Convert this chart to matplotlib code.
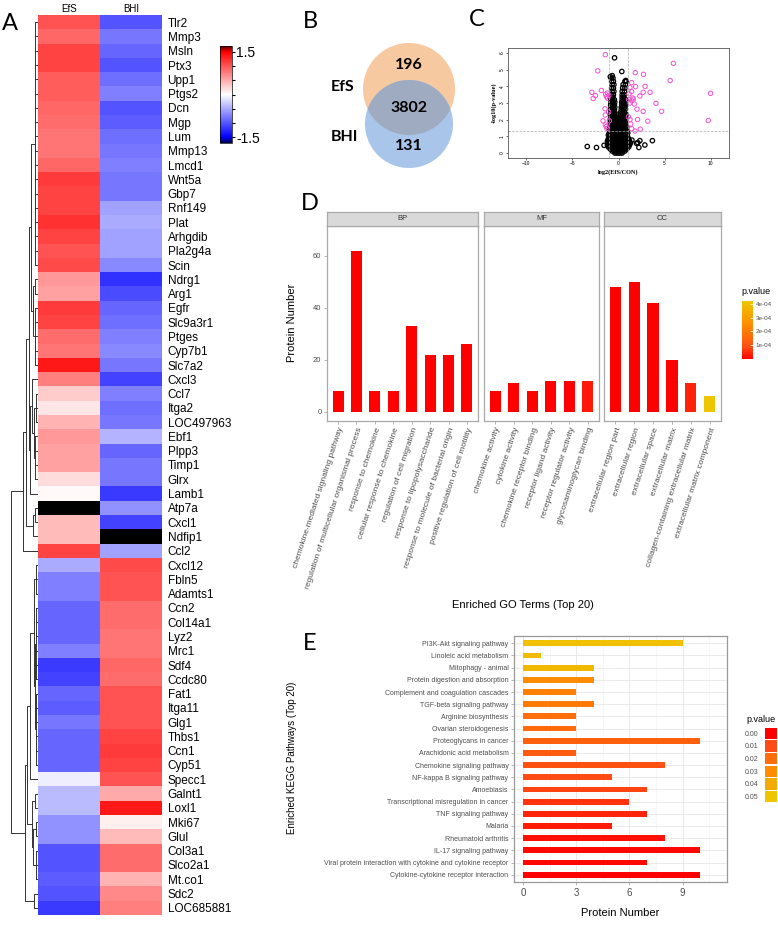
import numpy as np
import matplotlib
matplotlib.use('Agg')
import matplotlib.pyplot as plt
from matplotlib.colors import LinearSegmentedColormap, Normalize
from matplotlib.cm import ScalarMappable
from matplotlib.patches import Circle

W, H = 778, 925
plt.rcParams['font.family'] = ['Liberation Sans', 'DejaVu Sans']

# ---- A: heatmap data (z-scores) ----
genes = ['Tlr2', 'Mmp3', 'Msln', 'Ptx3', 'Upp1', 'Ptgs2', 'Dcn', 'Mgp', 'Lum', 'Mmp13',
         'Lmcd1', 'Wnt5a', 'Gbp7', 'Rnf149', 'Plat', 'Arhgdib', 'Pla2g4a', 'Scin', 'Ndrg1',
         'Arg1', 'Egfr', 'Slc9a3r1', 'Ptges', 'Cyp7b1', 'Slc7a2', 'Cxcl3', 'Ccl7', 'Itga2',
         'LOC497963', 'Ebf1', 'Plpp3', 'Timp1', 'Glrx', 'Lamb1', 'Atp7a', 'Cxcl1', 'Ndfip1',
         'Ccl2', 'Cxcl12', 'Fbln5', 'Adamts1', 'Ccn2', 'Col14a1', 'Lyz2', 'Mrc1', 'Sdf4',
         'Ccdc80', 'Fat1', 'Itga11', 'Glg1', 'Thbs1', 'Ccn1', 'Cyp51', 'Specc1', 'Galnt1',
         'Loxl1', 'Mki67', 'Glul', 'Col3a1', 'Slco2a1', 'Mt.co1', 'Sdc2', 'LOC685881']
efs_z = [1.0, 0.9, 1.1, 1.1, 0.95, 0.95, 0.9, 0.85, 0.8, 0.8,
         0.9, 1.15, 1.1, 1.1, 1.2, 1.1, 1.0, 1.05, 0.6,
         0.55, 1.15, 1.1, 0.85, 0.8, 1.35, 0.75, 0.3, 0.15,
         0.45, 0.6, 0.55, 0.55, 0.2, 0.03, np.nan, 0.4, 0.4,
         1.1, -0.5, -0.75, -0.75, -0.9, -0.9, -0.9, -0.75, -1.15,
         -1.1, -0.9, -0.95, -0.8, -0.9, -0.9, -0.9, -0.1, -0.4,
         -0.4, -0.65, -0.65, -1.0, -1.0, -0.95, -1.0, -1.15]
bhi_z = [-1.0, -0.8, -0.9, -1.0, -0.85, -0.75, -1.0, -0.95, -0.85, -0.8,
         -0.75, -0.8, -0.8, -0.55, -0.5, -0.55, -0.55, -0.7, -1.2,
         -1.05, -0.9, -0.85, -0.75, -0.7, -0.8, -1.1, -0.75, -0.85,
         -0.8, -0.45, -0.9, -0.8, -0.8, -1.15, -0.65, -1.1, np.nan,
         -0.55, 1.05, 1.0, 1.0, 0.85, 0.85, 0.8, 0.8, 0.9,
         0.85, 1.0, 1.0, 1.0, 1.1, 1.15, 1.1, 1.0, 0.5,
         1.35, 0.08, 0.4, 0.85, 0.85, 0.45, 0.7, 0.75]
# row dendrogram: (height, left, right), leaf = row index, ('c', a, b, h) = flat cluster
den_top = (15, (12, (9, (7, ('c', 0, 18, 3), (5, (3, 18, 19), ('c', 20, 25, 3))),
                        (8, (6, 25, (4, ('c', 26, 29, 2), ('c', 29, 33, 3))), 33)),
                    (5, (3, 34, 35), 36)),
           37)
den_bottom = (13, (11, (8, (4, ('c', 38, 41, 2), (3, ('c', 41, 47, 2), ('c', 47, 53, 2))), 53),
                   (6, (3, 54, 55), (5, (2, 56, 57), ('c', 58, 61, 2)))),
              (4, 61, 62))
den_root = (27, den_top, den_bottom)

# ---- B: venn ----
venn_sets = ['EfS', 'BHI']
venn_counts = [196, 3802, 131]

# ---- C: volcano ----
mag_pts = [(-1.43, 5.9), (-2.25, 4.93), (5.96, 5.38), (1.82, 4.82), (2.71, 4.72), (5.61, 4.35),
           (10.0, 3.58), (9.75, 1.95), (-2.89, 3.64), (-2.5, 3.44), (-2.75, 3.27), (-1.86, 3.75),
           (-1.39, 3.52), (-1.32, 3.38), (-1.18, 3.29), (-1.05, 3.45), (1.43, 4.22), (1.86, 3.98),
           (1.25, 3.93), (2.89, 4.0), (1.43, 3.68), (2.68, 3.64), (3.43, 3.64), (2.32, 3.42),
           (1.61, 3.23), (1.43, 3.13), (1.71, 2.94), (1.25, 3.0), (1.1, 3.2), (4.07, 2.98),
           (2.0, 2.63), (2.68, 2.5), (4.68, 2.5), (2.07, 2.01), (3.18, 1.91), (2.36, 1.43),
           (1.79, 1.32), (1.43, 1.45), (1.32, 1.74), (1.25, 2.01), (1.07, 2.17), (-1.46, 2.65),
           (-1.43, 2.28), (-1.68, 1.93), (-1.32, 1.59), (-1.25, 1.47), (-1.07, 2.46), (-1.0, 1.93),
           (-1.43, 1.68), (1.55, 3.3), (1.15, 3.55), (-1.2, 3.6)]
black_pts = [(-0.43, 5.71), (0.36, 4.89), (3.68, 0.74), (2.86, 0.48), (2.1, 0.62), (2.32, 0.74),
             (1.96, 0.58), (2.21, 0.33), (-3.39, 0.39), (-2.39, 0.33), (-1.57, 0.46), (1.46, 0.77),
             (-0.68, 4.64), (-0.89, 4.58), (0.79, 4.35)]
black_levels = [
    (0.0, [-0.4, -0.2, 0.0, 0.2, 0.4]),
    (0.12, [-0.7, -0.5, -0.3, -0.1, 0.1, 0.3, 0.5, 0.7]),
    (0.24, [-0.9, -0.7, -0.5, -0.3, -0.1, 0.1, 0.3, 0.5, 0.7, 0.9]),
    (0.36, [-1.1, -0.9, -0.7, -0.5, -0.3, -0.1, 0.1, 0.3, 0.5, 0.7, 0.9, 1.1]),
    (0.48, [-1.2, -1.0, -0.8, -0.6, -0.4, -0.2, 0.0, 0.2, 0.4, 0.6, 0.8, 1.0, 1.2]),
    (0.6, [-1.1, -0.9, -0.7, -0.5, -0.3, -0.1, 0.1, 0.3, 0.5, 0.7, 0.9, 1.1, 1.3]),
    (0.72, [-1.2, -1.0, -0.8, -0.6, -0.4, -0.2, 0.0, 0.2, 0.4, 0.6, 0.8, 1.0, 1.2]),
    (0.84, [-1.1, -0.9, -0.7, -0.5, -0.3, -0.1, 0.1, 0.3, 0.5, 0.7, 0.9, 1.1]),
    (0.96, [-1.0, -0.8, -0.6, -0.4, -0.2, 0.0, 0.2, 0.4, 0.6, 0.8, 1.0]),
    (1.08, [-1.1, -0.9, -0.7, -0.5, -0.3, -0.1, 0.1, 0.3, 0.5, 0.7, 0.9]),
    (1.2, [-1.0, -0.8, -0.6, -0.4, -0.2, 0.0, 0.2, 0.4, 0.6, 0.8, 1.0]),
    (1.32, [-0.9, -0.7, -0.5, -0.3, -0.1, 0.1, 0.3, 0.5, 0.7, 0.9]),
    (1.44, [-1.0, -0.8, -0.6, -0.4, -0.2, 0.0, 0.2, 0.4, 0.6, 0.8]),
    (1.56, [-0.9, -0.7, -0.5, -0.3, -0.1, 0.1, 0.3, 0.5, 0.7, 0.9]),
    (1.7, [-0.9, -0.7, -0.5, -0.3, -0.1, 0.1, 0.3, 0.5, 0.7]),
    (1.85, [-0.85, -0.65, -0.45, -0.25, 0.15, 0.35, 0.55, 0.75]),
    (2.0, [-0.9, -0.7, -0.5, -0.3, 0.2, 0.4, 0.6, 0.8]),
    (2.15, [-0.8, -0.6, -0.4, -0.2, 0.2, 0.4, 0.6, 0.8]),
    (2.3, [-0.85, -0.65, -0.45, -0.25, 0.25, 0.45, 0.65, 0.85]),
    (2.45, [-0.8, -0.6, -0.4, 0.25, 0.45, 0.65]),
    (2.6, [-0.85, -0.65, -0.45, 0.3, 0.5, 0.7]),
    (2.75, [-0.8, -0.6, -0.4, 0.3, 0.5, 0.7]),
    (2.9, [-0.85, -0.65, -0.45, 0.35, 0.55, 0.75]),
    (3.05, [-0.8, -0.6, -0.4, 0.35, 0.55, 0.75]),
    (3.2, [-0.85, -0.65, -0.45, 0.4, 0.6, 0.8]),
    (3.35, [-0.8, -0.6, 0.4, 0.6]),
    (3.5, [-0.75, -0.55, 0.4, 0.6]),
    (3.7, [-0.7, -0.5, 0.4, 0.65]),
    (3.9, [-0.75, -0.55, 0.45, 0.7]),
    (4.1, [-0.7, -0.5, 0.5, 0.75]),
    (4.3, [-0.75, -0.55, 0.7, 0.85]),
    (4.5, [-0.8, -0.6]),
]

# ---- D: GO enrichment ----
bp_terms = ['chemokine-mediated signaling pathway', 'regulation of multicellular organismal process',
            'response to chemokine', 'cellular response to chemokine', 'regulation of cell migration',
            'response to lipopolysaccharide', 'response to molecule of bacterial origin',
            'positive regulation of cell motility']
bp_counts = [8, 62, 8, 8, 33, 22, 22, 26]
bp_pvals = [1e-6, 1e-6, 1e-6, 1e-6, 1e-6, 1e-6, 1e-6, 1e-6]
mf_terms = ['chemokine activity', 'cytokine activity', 'chemokine receptor binding',
            'receptor ligand activity', 'receptor regulator activity', 'glycosaminoglycan binding']
mf_counts = [8, 11, 8, 12, 12, 12]
mf_pvals = [1e-6, 1e-6, 1e-6, 1e-6, 1e-6, 3e-5]
cc_terms = ['extracellular region part', 'extracellular region', 'extracellular space',
            'extracellular matrix', 'collagen-containing extracellular matrix',
            'extracellular matrix component']
cc_counts = [48, 50, 42, 20, 11, 6]
cc_pvals = [1e-6, 1e-6, 1e-6, 1e-6, 4e-5, 4.2e-4]

# ---- E: KEGG enrichment (bottom to top) ----
kegg_terms = ['Cytokine-cytokine receptor interaction',
              'Viral protein interaction with cytokine and cytokine receptor',
              'IL-17 signaling pathway', 'Rheumatoid arthritis', 'Malaria', 'TNF signaling pathway',
              'Transcriptional misregulation in cancer', 'Amoebiasis', 'NF-kappa B signaling pathway',
              'Chemokine signaling pathway', 'Arachidonic acid metabolism', 'Proteoglycans in cancer',
              'Ovarian steroidogenesis', 'Arginine biosynthesis', 'TGF-beta signaling pathway',
              'Complement and coagulation cascades', 'Protein digestion and absorption',
              'Mitophagy - animal', 'Linoleic acid metabolism', 'PI3K-Akt signaling pathway']
kegg_counts = [10, 7, 10, 8, 5, 7, 6, 7, 5, 8, 3, 10, 3, 3, 4, 3, 4, 4, 1, 9]
kegg_pvals = [0.0, 0.001, 0.001, 0.002, 0.004, 0.005, 0.007, 0.009, 0.010, 0.012,
              0.015, 0.016, 0.019, 0.020, 0.024, 0.026, 0.030, 0.045, 0.046, 0.048]
kegg_legend = [0.00, 0.01, 0.02, 0.03, 0.04, 0.05]

fig = plt.figure(figsize=(W / 100, H / 100), dpi=100)


def px_axes(x0, y0, x1, y1):
    return fig.add_axes([x0 / W, 1 - y1 / H, (x1 - x0) / W, (y1 - y0) / H])


# background axes in pixel coords for letters + venn
bg = px_axes(0, 0, W, H)
bg.set_xlim(0, W)
bg.set_ylim(H, 0)
bg.axis('off')
for letter, (lx, ly) in zip('ABCDE', [(10, 24), (310, 22), (477, 20), (310, 203), (310, 643)]):
    bg.text(lx, ly, letter, fontsize=17, family='Lato', ha='center', va='center')

# ---------- A ----------
hm_cmap = LinearSegmentedColormap.from_list(
    'hm', [(0, '#000050'), (0.06, '#0000ff'), (0.5, '#ffffff'), (0.94, '#ff0000'), (1, '#600000')])
hm_cmap.set_bad('black')
vals = np.ma.masked_invalid(np.column_stack([efs_z, bhi_z]))
ax_hm = px_axes(38, 15, 162, 915)
mesh = ax_hm.pcolormesh(np.arange(3), np.arange(len(genes) + 1), vals, cmap=hm_cmap,
                        vmin=-1.7, vmax=1.7)
ax_hm.set_ylim(len(genes), 0)
ax_hm.set_yticks(np.arange(len(genes)) + 0.5, genes)
ax_hm.yaxis.tick_right()
ax_hm.tick_params(axis='y', length=0, labelsize=8.5, pad=4)
ax_hm.set_xticks([0.5, 1.5], ['EfS', 'BHI'])
ax_hm.xaxis.tick_top()
ax_hm.tick_params(axis='x', length=0, labelsize=7, pad=1)
for s in ax_hm.spines.values():
    s.set_visible(False)

ax_dn = px_axes(5, 15, 38, 915)
ax_dn.set_ylim(len(genes), 0)
ax_dn.set_xlim(33, 0)
ax_dn.axis('off')


def draw_node(node):
    kw = dict(color='#333333', lw=0.7)
    if isinstance(node, int):
        return node + 0.5, 0
    if node[0] == 'c':
        _, a, b, h = node
        ys = np.arange(a, b) + 0.5
        for y in ys:
            ax_dn.plot([0, h], [y, y], **kw)
        ax_dn.plot([h, h], [ys[0], ys[-1]], **kw)
        return ys.mean(), h
    h, left, right = node
    y1, h1 = draw_node(left)
    y2, h2 = draw_node(right)
    ax_dn.plot([h1, h, h, h2], [y1, y1, y2, y2], **kw)
    return (y1 + y2) / 2, h


draw_node(den_root)

cax = px_axes(220, 46, 232, 143)
cb = fig.colorbar(mesh, cax=cax)
cb.set_ticks([-1.5, -1, -0.5, 0, 0.5, 1, 1.5], labels=['-1.5', '', '', '', '', '', '1.5'])
cb.ax.tick_params(length=2, width=0.8, labelsize=10, pad=1)
cb.outline.set_linewidth(0.5)

# ---------- B ----------
c_efs = Circle((409, 89), 46, facecolor='#f7c9a1', edgecolor='none')
c_bhi = Circle((409, 124), 44, facecolor='#a9c5e9', edgecolor='none')
c_both = Circle((409, 124), 44, facecolor='#9eabc0', edgecolor='none')
bg.add_patch(c_efs)
bg.add_patch(c_bhi)
bg.add_patch(c_both)
c_both.set_clip_path(c_efs)
for txt, (tx, ty) in zip(venn_counts, [(409, 65), (409, 108), (409, 146)]):
    bg.text(tx, ty, str(txt), fontsize=11.5, family='Lato', weight='bold', ha='center', va='center')
for txt, (tx, ty) in zip(venn_sets, [(343, 87), (344, 137)]):
    bg.text(tx, ty, txt, fontsize=11.5, family='Lato', weight='bold', ha='center', va='center')

# ---------- C ----------
ax_c = px_axes(508, 48, 729, 158)
bx = [x for y, xs in black_levels for x in xs] + [p[0] for p in black_pts]
by = [y for y, xs in black_levels for x in xs] + [p[1] for p in black_pts]
ax_c.scatter(bx, by, s=10, facecolors='none', edgecolors='black', linewidths=0.9)
ax_c.scatter([p[0] for p in mag_pts], [p[1] for p in mag_pts], s=10, facecolors='none',
             edgecolors='#f54fd3', linewidths=0.7)
ax_c.axvline(-1, color='#aaaaaa', lw=0.5, ls='--')
ax_c.axvline(1, color='#aaaaaa', lw=0.5, ls='--')
ax_c.axhline(1.3, color='#aaaaaa', lw=0.5, ls='--')
ax_c.set_xlim(-12, 12)
ax_c.set_ylim(-0.3, 6.3)
ax_c.set_xticks([-10, -5, 0, 5, 10])
ax_c.set_yticks(range(7))
ax_c.tick_params(labelsize=3.5, length=1.5, width=0.4, pad=1)
for lab in ax_c.get_yticklabels():
    lab.set_rotation(90)
    lab.set_va('center')
for s in ax_c.spines.values():
    s.set_color('#555555')
    s.set_linewidth(0.6)
ax_c.set_xlabel('log2(EfS/CON)', fontsize=4.5, family='Liberation Serif', weight='bold', labelpad=2)
ax_c.set_ylabel('-log10(p-value)', fontsize=4.5, family='Liberation Serif', weight='bold', labelpad=2)

# ---------- D ----------
pv_cmap = LinearSegmentedColormap.from_list(
    'pv', [(0, '#ff0000'), (0.2, '#ff4b14'), (0.4, '#ff6e0a'), (0.6, '#ff8c00'),
           (0.8, '#f5aa00'), (1, '#eec600')])
go_norm = Normalize(0, 4.2e-4)
facets = [('BP', bp_terms, bp_counts, bp_pvals, 327, 478),
          ('MF', mf_terms, mf_counts, mf_pvals, 484, 599),
          ('CC', cc_terms, cc_counts, cc_pvals, 604, 721)]
for i, (name, terms, counts, pv, x0, x1) in enumerate(facets):
    ax = px_axes(x0, 226, x1, 421)
    ax.bar(range(len(terms)), counts, width=0.6, color=pv_cmap(go_norm(np.array(pv))))
    ax.set_xlim(-0.6, len(terms) - 0.4)
    ax.set_ylim(-3.5, 71.5)
    ax.set_xticks(range(len(terms)), terms, rotation=72, ha='right', va='top',
                  rotation_mode='anchor')
    ax.tick_params(axis='x', labelsize=6, colors='#4d4d4d', length=2, width=0.5, pad=2)
    ax.tick_params(axis='x', color='#999999')
    if i == 0:
        ax.set_yticks([0, 20, 40, 60])
        ax.tick_params(axis='y', labelsize=5.5, labelcolor='#4d4d4d', color='#999999',
                       length=2, width=0.5, pad=2)
    else:
        ax.set_yticks([])
    for s in ax.spines.values():
        s.set_color('#aaaaaa')
        s.set_linewidth(0.9)
    st = px_axes(x0, 212, x1, 226)
    st.set_facecolor('#d9d9d9')
    st.set_xticks([])
    st.set_yticks([])
    for s in st.spines.values():
        s.set_color('#aaaaaa')
        s.set_linewidth(0.9)
    st.text(0.5, 0.5, name, transform=st.transAxes, ha='center', va='center',
            fontsize=5.5, color='#333333')

fig.text(292 / W, 1 - 323 / H, 'Protein Number', rotation=90, ha='center', va='center', fontsize=8)
fig.text(523 / W, 1 - 605 / H, 'Enriched GO Terms (Top 20)', ha='center', va='center', fontsize=8)

cax_d = px_axes(742, 301, 753, 359)
cb_d = fig.colorbar(ScalarMappable(norm=go_norm, cmap=pv_cmap), cax=cax_d)
cb_d.set_ticks([1e-4, 2e-4, 3e-4, 4e-4], labels=['1e-04', '2e-04', '3e-04', '4e-04'])
cb_d.ax.tick_params(labelsize=4.5, color='white', direction='in', length=2.5, width=0.6,
                    labelcolor='#4d4d4d', pad=2)
cb_d.outline.set_visible(False)
fig.text(741 / W, 1 - 292 / H, 'p.value', ha='left', va='center', fontsize=6.5)

# ---------- E ----------
kegg_norm = Normalize(0, 0.05)
ax_e = px_axes(514, 636, 727, 882)
yy = np.arange(1, len(kegg_terms) + 1)
ax_e.barh(yy, kegg_counts, height=0.48, color=pv_cmap(kegg_norm(np.array(kegg_pvals))), zorder=3)
ax_e.set_xlim(-0.5, 11.5)
ax_e.set_ylim(0.4, len(kegg_terms) + 0.6)
ax_e.set_yticks(yy, kegg_terms)
ax_e.set_xticks([0, 3, 6, 9])
ax_e.set_xticks([1.5, 4.5, 7.5, 10.5], minor=True)
ax_e.grid(True, which='major', color='#e6e6e6', lw=0.6, zorder=0)
ax_e.grid(True, which='minor', axis='x', color='#f2f2f2', lw=0.4, zorder=0)
ax_e.tick_params(axis='y', labelsize=5, labelcolor='#4d4d4d', color='#999999', length=2,
                 width=0.5, pad=2)
ax_e.tick_params(axis='x', labelsize=7, labelcolor='#4d4d4d', color='#999999', length=2,
                 width=0.5, pad=2)
ax_e.tick_params(axis='x', which='minor', length=0)
for s in ax_e.spines.values():
    s.set_color('#999999')
    s.set_linewidth(0.9)
fig.text(620 / W, 1 - 913 / H, 'Protein Number', ha='center', va='center', fontsize=8)
fig.text(292 / W, 1 - 758 / H, 'Enriched KEGG Pathways (Top 20)', rotation=90, ha='center',
         va='center', fontsize=7)

ax_leg = px_axes(765, 727, 777, 803)
ax_leg.barh(range(len(kegg_legend)), [1] * len(kegg_legend), height=0.92,
            color=pv_cmap(kegg_norm(np.array(kegg_legend))))
ax_leg.set_xlim(0, 1)
ax_leg.set_ylim(len(kegg_legend) - 0.5, -0.5)
ax_leg.set_xticks([])
ax_leg.set_yticks(range(len(kegg_legend)), ['%.2f' % v for v in kegg_legend])
ax_leg.tick_params(axis='y', length=0, labelsize=5, labelcolor='#4d4d4d', pad=5)
for s in ax_leg.spines.values():
    s.set_visible(False)
fig.text(746 / W, 1 - 719 / H, 'p.value', ha='left', va='center', fontsize=6.5)

fig.savefig('out.png', dpi=100)
